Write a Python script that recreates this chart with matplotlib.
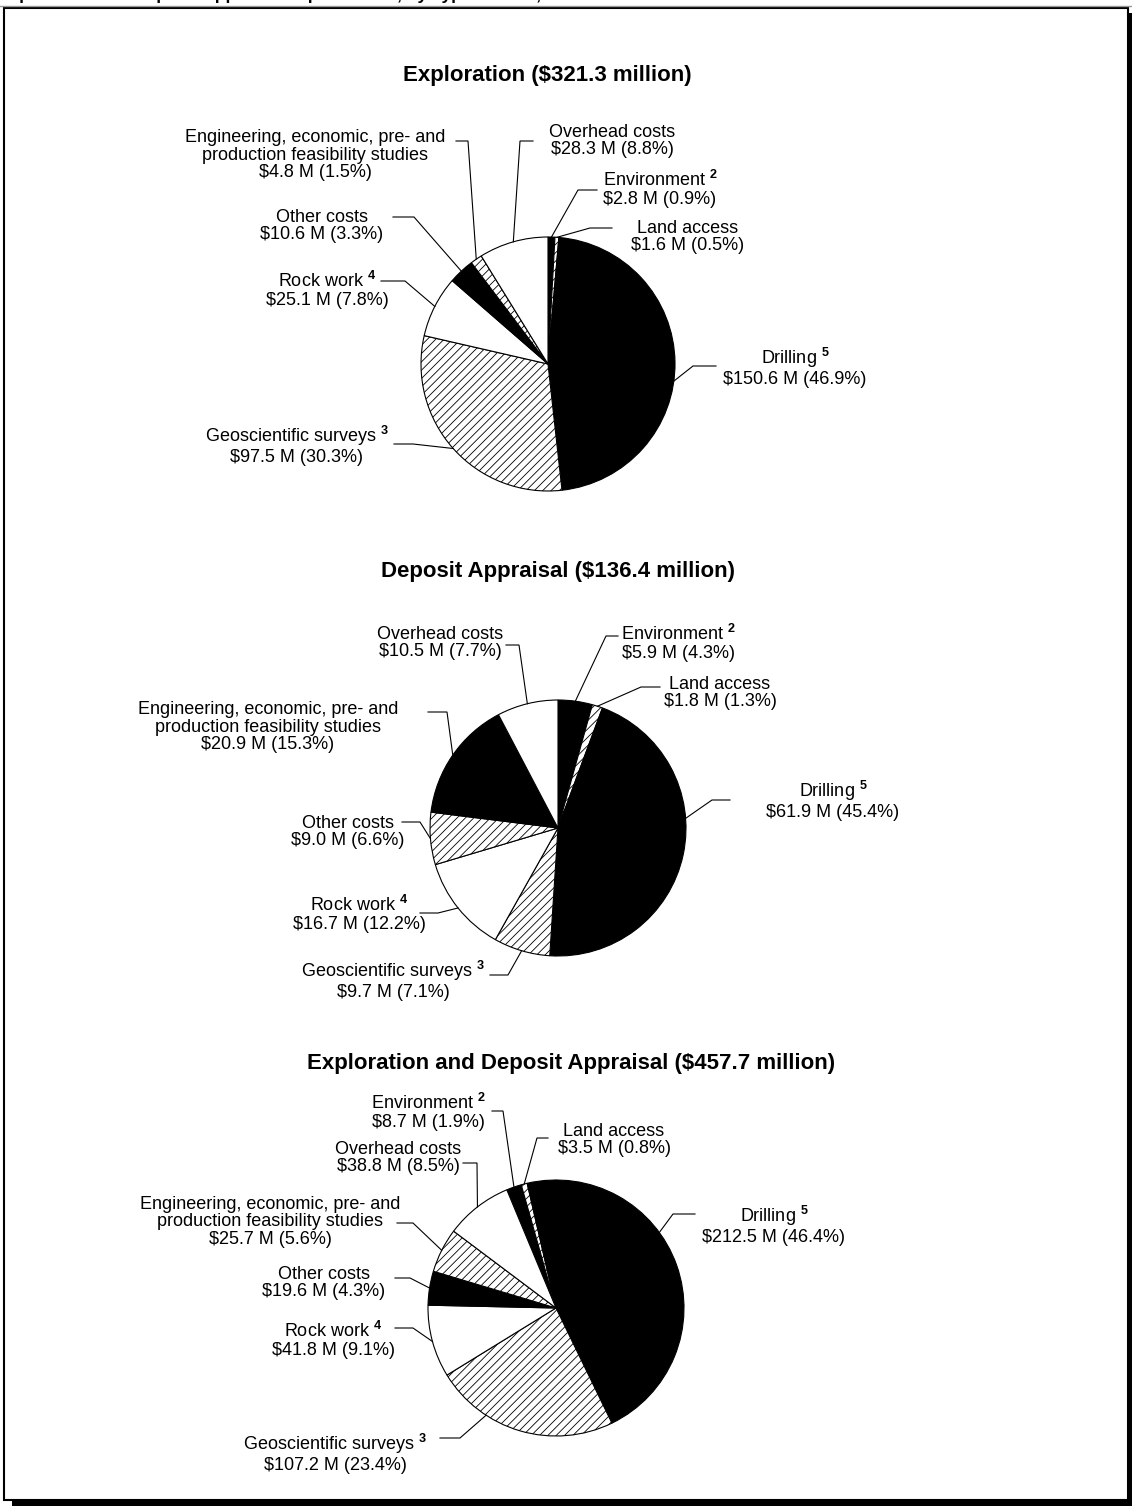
import matplotlib.pyplot as plt
import matplotlib.patches as mpatches
import numpy as np

plt.rcParams['font.family'] = ['Liberation Sans', 'DejaVu Sans']
plt.rcParams['mathtext.fontset'] = 'custom'
plt.rcParams['mathtext.rm'] = 'Liberation Sans'
plt.rcParams['mathtext.bf'] = 'Liberation Sans:bold'
plt.rcParams['hatch.linewidth'] = 0.6

W, H = 1132, 1507

categories = ["Environment", "Land access", "Drilling", "Geoscientific surveys",
              "Rock work", "Other costs",
              "Engineering, economic, pre- and\nproduction feasibility studies",
              "Overhead costs"]
footnotes = ["2", "", "5", "3", "4", "", "", ""]

exploration = [2.8, 1.6, 150.6, 97.5, 25.1, 10.6, 4.8, 28.3]
exploration_pct = [0.9, 0.5, 46.9, 30.3, 7.8, 3.3, 1.5, 8.8]
appraisal = [5.9, 1.8, 61.9, 9.7, 16.7, 9.0, 20.9, 10.5]
appraisal_pct = [4.3, 1.3, 45.4, 7.1, 12.2, 6.6, 15.3, 7.7]
combined = [8.7, 3.5, 212.5, 107.2, 41.8, 19.6, 25.7, 38.8]
combined_pct = [1.9, 0.8, 46.4, 23.4, 9.1, 4.3, 5.6, 8.5]

titles = ["Exploration ($321.3 million)",
          "Deposit Appraisal ($136.4 million)",
          "Exploration and Deposit Appraisal ($457.7 million)"]


def py(y):
    # pixel rows are counted from the top
    return H - y


HATCH = '////'

pies = [
    dict(values=exploration, pct=exploration_pct, c=(548, 364), r=127, start=0,
         title=(547, 75),
         fill=['k', 'w', 'k', 'w', 'w', 'k', 'w', 'w'],
         hatch=['', HATCH, '', HATCH, '', '', HATCH, ''],
         # text x, text y, position in slice, elbow x, elbow y, line end x
         labels=[(660, 189, .5, 578, 190, 597),
                 (688, 237, .5, 590, 228, 612),
                 (795, 367, .55, 693, 366, 716),
                 (297, 445, .5, 413, 444, 394),
                 (327, 290, .5, 405, 281, 381),
                 (322, 226, .5, 414, 217, 393),
                 (315, 155, .5, 468, 141, 456),
                 (612, 141, .5, 520, 141, 533)]),
    dict(values=appraisal, pct=appraisal_pct, c=(558, 828), r=128, start=0,
         title=(558, 572),
         fill=['k', 'w', 'k', 'w', 'w', 'w', 'k', 'w'],
         hatch=['', HATCH, '', HATCH, '', HATCH, '', ''],
         labels=[(678, 643, .5, 606, 636, 618),
                 (720, 693, .5, 641, 687, 660),
                 (833, 800, .4, 712, 800, 730),
                 (393, 980, .5, 508, 975, 490),
                 (359, 914, .5, 438, 913, 420),
                 (348, 832, .5, 420, 822, 402),
                 (268, 727, .5, 447, 712, 428),
                 (440, 643, .5, 519, 645, 506)]),
    dict(values=combined, pct=combined_pct, c=(556, 1308), r=128, start=-22.6,
         title=(571, 1063),
         fill=['k', 'w', 'k', 'w', 'w', 'k', 'w', 'w'],
         hatch=['', HATCH, '', HATCH, '', '', HATCH, ''],
         labels=[(428, 1112, .5, 503, 1111, 492),
                 (614, 1140, .5, 537, 1138, 548),
                 (774, 1225, .4, 673, 1214, 695),
                 (335, 1453, .7, 460, 1438, 440),
                 (333, 1340, .5, 413, 1328, 395),
                 (324, 1283, .5, 410, 1278, 395),
                 (270, 1222, .5, 413, 1223, 397),
                 (398, 1158, .5, 477, 1163, 463)]),
]

fig = plt.figure(figsize=(W / 100, H / 100), dpi=100)
ax = fig.add_axes([0, 0, 1, 1])

# page frame with drop shadow
ax.add_patch(mpatches.Rectangle((12, py(1506)), W - 12, 1506 - 13, facecolor='k', lw=0))
ax.add_patch(mpatches.Rectangle((4, py(1500)), 1124, 1500 - 8, facecolor='w',
                                edgecolor='k', lw=1.5))
ax.plot([0, W], [py(6), py(6)], color='#999999', lw=1)

# chart heading, mostly above the page edge
ax.text(-2, py(0), "Exploration and Deposit Appraisal Expenditures, by Type of Cost, 2009",
        fontsize=12.5, fontweight='bold', va='baseline', ha='left')

for p, title in zip(pies, titles):
    vals = p['values']
    cx, cy = p['c']
    r = p['r']
    ax.pie(vals, colors=p['fill'], hatch=p['hatch'],
           startangle=90 - p['start'], counterclock=False,
           center=(cx, py(cy)), radius=r,
           wedgeprops=dict(edgecolor='k', linewidth=0.8))
    ax.text(p['title'][0], py(p['title'][1]), title, fontsize=16, fontweight='bold',
            ha='center', va='center')

    total = sum(vals)
    cum = np.cumsum([0] + vals)
    for i, name in enumerate(categories):
        tx, ty, frac, ex, ey, lx = p['labels'][i]
        a = np.radians(p['start'] + 360 * (cum[i] + frac * vals[i]) / total)
        px, pyy = cx + r * np.sin(a), cy - r * np.cos(a)
        ax.plot([px, ex, lx], [py(pyy), py(ey), py(ey)], color='k', lw=0.8,
                solid_joinstyle='miter')
        head = name
        if footnotes[i]:
            head = name + r" $^{\mathbf{" + footnotes[i] + "}}$"
        txt = head + "\n" + f"${vals[i]:.1f} M ({p['pct'][i]:.1f}%)"
        ax.text(tx, py(ty), txt, fontsize=13, ha='center', va='center',
                multialignment='center', linespacing=1.05)

ax.set_xlim(0, W)
ax.set_ylim(0, H)
ax.set_aspect('auto')
ax.axis('off')

fig.savefig('out.png', dpi=100)
